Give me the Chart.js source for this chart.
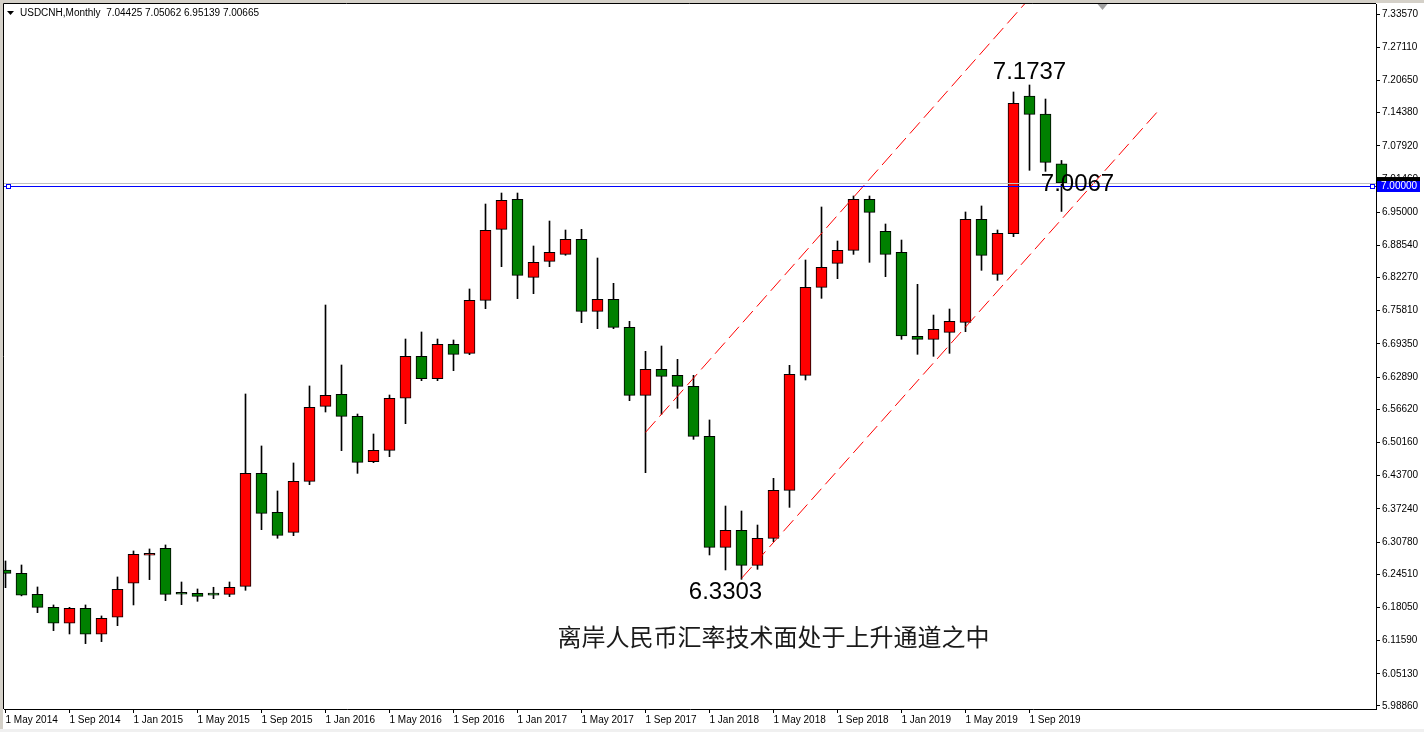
<!DOCTYPE html>
<html><head><meta charset="UTF-8">
<title>USDCNH,Monthly</title>
<style>
    body, html {
        margin: 0;
        padding: 0;
        background: #ffffff;
    }
    .wrap {
        position: relative;
        width: 1424px;
        height: 732px;
    }
</style>
<script src="https://cdn.jsdelivr.net/npm/chart.js"></script>
</head>
<body>
<div class="wrap"><canvas id="fxChart"></canvas></div>
<script>
// monthly candles, May 2014 .. Nov 2019
const months = [
    'May 2014','Jun 2014','Jul 2014','Aug 2014','Sep 2014','Oct 2014','Nov 2014','Dec 2014',
    'Jan 2015','Feb 2015','Mar 2015','Apr 2015','May 2015','Jun 2015','Jul 2015','Aug 2015','Sep 2015','Oct 2015','Nov 2015','Dec 2015',
    'Jan 2016','Feb 2016','Mar 2016','Apr 2016','May 2016','Jun 2016','Jul 2016','Aug 2016','Sep 2016','Oct 2016','Nov 2016','Dec 2016',
    'Jan 2017','Feb 2017','Mar 2017','Apr 2017','May 2017','Jun 2017','Jul 2017','Aug 2017','Sep 2017','Oct 2017','Nov 2017','Dec 2017',
    'Jan 2018','Feb 2018','Mar 2018','Apr 2018','May 2018','Jun 2018','Jul 2018','Aug 2018','Sep 2018','Oct 2018','Nov 2018','Dec 2018',
    'Jan 2019','Feb 2019','Mar 2019','Apr 2019','May 2019','Jun 2019','Jul 2019','Aug 2019','Sep 2019','Oct 2019','Nov 2019'
];
const opens = [
    6.2533, 6.2469, 6.2060, 6.1807, 6.1496, 6.1788, 6.1282, 6.1613,
    6.2275, 6.2820, 6.2956, 6.2080, 6.2080, 6.2060, 6.2060, 6.2216, 6.4416, 6.3657, 6.3267, 6.4260,
    6.5720, 6.5954, 6.5525, 6.4642, 6.4863, 6.5876, 6.6693, 6.6258, 6.6926, 6.6751, 6.7783, 6.9165,
    6.9749, 6.8231, 6.8542, 6.8678, 6.8970, 6.7569, 6.7802, 6.7257, 6.5934, 6.6440, 6.6323, 6.6109,
    6.5136, 6.2975, 6.3306, 6.2624, 6.3150, 6.4084, 6.6323, 6.8036, 6.8503, 6.8756, 6.9749, 6.9126,
    6.8717, 6.7082, 6.7024, 6.7160, 6.7355, 6.9360, 6.8289, 6.9081, 7.1761, 7.1410, 7.04425
];
const highs = [
    6.2709, 6.2631, 6.2203, 6.1853, 6.1807, 6.1853, 6.1639, 6.2398,
    6.2904, 6.2943, 6.3021, 6.2300, 6.2164, 6.2197, 6.2300, 6.5960, 6.4948, 6.4072, 6.4617, 6.6116,
    6.7692, 6.6524, 6.5570, 6.5181, 6.5940, 6.7030, 6.7167, 6.7030, 6.7011, 6.8004, 6.9658, 6.9872,
    6.9872, 6.8841, 6.9327, 6.9152, 6.9165, 6.8607, 6.8114, 6.7374, 6.6790, 6.6894, 6.6634, 6.6323,
    6.5454, 6.3779, 6.3682, 6.3409, 6.4318, 6.6518, 6.8568, 6.9600, 6.8938, 6.9814, 6.9814, 6.9269,
    6.8957, 6.8094, 6.7497, 6.7614, 6.9503, 6.9620, 6.9152, 7.1839, 7.1975, 7.1702, 7.05062
];
const lows = [
    6.2189, 6.2030, 6.1703, 6.1353, 6.1288, 6.1100, 6.1139, 6.1450,
    6.1853, 6.2346, 6.1937, 6.1859, 6.1924, 6.1976, 6.2015, 6.2138, 6.3319, 6.3151, 6.3202, 6.4195,
    6.5609, 6.4857, 6.4415, 6.4623, 6.4740, 6.5382, 6.6219, 6.6219, 6.6414, 6.6725, 6.7621, 6.8438,
    6.7816, 6.7913, 6.8438, 6.8660, 6.7348, 6.7231, 6.7231, 6.5830, 6.4428, 6.5564, 6.5681, 6.5077,
    6.2826, 6.2534, 6.2352, 6.2547, 6.3085, 6.3753, 6.6232, 6.7822, 6.8205, 6.8678, 6.8523, 6.8244,
    6.7024, 6.6732, 6.6693, 6.6751, 6.7173, 6.8367, 6.8172, 6.9023, 7.0314, 7.0294, 6.95139
];
const closes = [
    6.2468, 6.2041, 6.1807, 6.1496, 6.1788, 6.1282, 6.1593, 6.2158,
    6.2839, 6.2859, 6.2060, 6.2062, 6.2021, 6.2043, 6.2197, 6.4416, 6.3637, 6.3209, 6.4260, 6.5701,
    6.5934, 6.5525, 6.4630, 6.4863, 6.5876, 6.6693, 6.6258, 6.6926, 6.6732, 6.7783, 6.9146, 6.9730,
    6.8270, 6.8523, 6.8717, 6.8970, 6.7569, 6.7802, 6.7257, 6.5934, 6.6440, 6.6303, 6.6109, 6.5136,
    6.2975, 6.3306, 6.2624, 6.3150, 6.4084, 6.6342, 6.8036, 6.8425, 6.8756, 6.9749, 6.9496, 6.8678,
    6.7089, 6.7024, 6.7219, 6.7374, 6.9360, 6.8659, 6.9087, 7.1618, 7.1404, 7.0469, 7.00665
];

const xTickIdx = [0, 4, 8, 12, 16, 20, 24, 28, 32, 36, 40, 44, 48, 52, 56, 60, 64];
const xTickLabels = ['1 May 2014','1 Sep 2014','1 Jan 2015','1 May 2015','1 Sep 2015','1 Jan 2016',
    '1 May 2016','1 Sep 2016','1 Jan 2017','1 May 2017','1 Sep 2017','1 Jan 2018',
    '1 May 2018','1 Sep 2018','1 Jan 2019','1 May 2019','1 Sep 2019'];
const yTicks = [7.33570, 7.27110, 7.20650, 7.14380, 7.07920, 7.01460, 6.95000, 6.88540, 6.82270,
    6.75810, 6.69350, 6.62890, 6.56620, 6.50160, 6.43700, 6.37240, 6.30780, 6.24510, 6.18050,
    6.11590, 6.05130, 5.98860];

// drawn objects: horizontal line, channel rays, text labels
const levelLine = 7.0;
const upperChannel = [{x: 40, y: 6.5213}, {x: 64, y: 7.3661}];
const lowerChannel = [{x: 46, y: 6.2371}, {x: 72, y: 7.1456}];
const notes = [
    {text: '7.1737', x: 64, y: 7.2228},
    {text: '6.3303', x: 45, y: 6.2105},
    {text: '7.0067', x: 67, y: 7.0048},
    {text: '离岸人民币汇率技术面处于上升通道之中', x: 48, y: 6.1229, cjk: true}
];

const last = closes.length - 1;
const wickData = months.map((m, i) => ({x: i, y: [lows[i], highs[i]]}));
const bodyData = months.map((m, i) => ({x: i, y: [opens[i], closes[i]]}));
const bodyColors = months.map((m, i) => closes[i] >= opens[i] ? '#ff0000' : '#008000');

const mtPlugin = {
    id: 'mt4',
    beforeDraw(chart) {
        const ctx = chart.ctx;
        ctx.save();
        ctx.fillStyle = '#ffffff';
        ctx.fillRect(0, 0, chart.width, chart.height);
        ctx.fillStyle = '#d4d0c8';
        ctx.fillRect(0, 0, chart.width, 3);
        ctx.fillRect(0, 0, 3, chart.height);
        ctx.fillStyle = '#f0f0f0';
        ctx.fillRect(0, chart.height - 3, chart.width, 3);
        ctx.restore();
    },
    afterDraw(chart) {
        const ctx = chart.ctx;
        const a = chart.chartArea;
        const xs = chart.scales.x, ys = chart.scales.y;
        ctx.save();

        // frame left/top
        ctx.strokeStyle = '#000';
        ctx.lineWidth = 1;
        ctx.beginPath();
        ctx.moveTo(3.5, a.bottom);
        ctx.lineTo(3.5, 3.5);
        ctx.lineTo(a.right, 3.5);
        ctx.stroke();

        // bid line
        const yb = Math.round(ys.getPixelForValue(closes[last])) + 0.5;
        ctx.strokeStyle = '#c0c0c0';
        ctx.beginPath();
        ctx.moveTo(a.left, yb);
        ctx.lineTo(a.right, yb);
        ctx.stroke();

        // horizontal level line
        const yl = Math.round(ys.getPixelForValue(levelLine)) + 0.5;
        ctx.strokeStyle = '#0000ff';
        ctx.beginPath();
        ctx.moveTo(a.left, yl);
        ctx.lineTo(a.right, yl);
        ctx.stroke();
        ctx.fillStyle = '#ffffff';
        [a.left + 2, a.right - 6].forEach(px => {
            ctx.fillRect(px, yl - 2.5, 4, 4);
            ctx.strokeRect(px + 0.5, yl - 2, 4, 4);
        });

        // text objects
        ctx.fillStyle = '#000';
        ctx.textAlign = 'center';
        ctx.textBaseline = 'middle';
        notes.forEach(n => {
            ctx.font = n.cjk ? '24px "Noto Sans CJK SC"' : '24px "Liberation Sans", Arial';
            ctx.fillStyle = n.cjk ? '#1a1a1a' : '#000';
            ctx.fillText(n.text, xs.getPixelForValue(n.x), ys.getPixelForValue(n.y));
        });

        // price labels on the axis
        const lx = a.right + 1;
        ctx.fillStyle = '#000';
        ctx.fillRect(lx, ys.getPixelForValue(closes[last]) - 6, 43, 12);
        ctx.fillStyle = '#0000ff';
        ctx.fillRect(lx, yl - 5.5, 43, 11);
        ctx.fillStyle = '#ffffff';
        ctx.font = '10px "Liberation Sans", Arial';
        ctx.textAlign = 'left';
        ctx.fillText(levelLine.toFixed(5), a.right + 5, yl);

        // chart shift marker
        const sx = Math.round(xs.getPixelForValue(68.5)) + 0.5;
        ctx.fillStyle = '#a0a0a0';
        ctx.beginPath();
        ctx.moveTo(sx - 5, 4);
        ctx.lineTo(sx + 5, 4);
        ctx.lineTo(sx, 10);
        ctx.closePath();
        ctx.fill();

        // header
        ctx.fillStyle = '#000';
        ctx.beginPath();
        ctx.moveTo(7, 11);
        ctx.lineTo(14, 11);
        ctx.lineTo(10.5, 15);
        ctx.closePath();
        ctx.fill();
        ctx.font = '10px "Liberation Sans", Arial';
        ctx.textAlign = 'left';
        ctx.textBaseline = 'middle';
        const ohlc = [opens[last], highs[last], lows[last], closes[last]].map(v => v.toFixed(5)).join(' ');
        ctx.fillText('USDCNH,Monthly  ' + ohlc, 20, 13);
        ctx.restore();
    }
};

const ctx = document.getElementById('fxChart').getContext('2d');
new Chart(ctx, {
    type: 'bar',
    data: {
        datasets: [
            {
                type: 'line',
                data: upperChannel,
                borderColor: '#ff0000',
                borderWidth: 1,
                borderDash: [15, 6],
                pointRadius: 0,
                order: 0
            },
            {
                type: 'line',
                data: lowerChannel,
                borderColor: '#ff0000',
                borderWidth: 1,
                borderDash: [15, 6],
                pointRadius: 0,
                order: 0
            },
            {
                data: bodyData,
                backgroundColor: bodyColors,
                borderColor: '#000000',
                borderWidth: 1,
                borderSkipped: false,
                barThickness: 11,
                minBarLength: 2,
                grouped: false,
                order: 1
            },
            {
                data: wickData,
                backgroundColor: '#000000',
                borderWidth: 0,
                barThickness: 1,
                grouped: false,
                order: 2
            }
        ]
    },
    options: {
        responsive: true,
        maintainAspectRatio: false,
        animation: false,
        devicePixelRatio: 1,
        events: [],
        layout: { padding: { left: 4, top: 4, right: 0, bottom: 0 } },
        plugins: {
            legend: { display: false },
            tooltip: { enabled: false }
        },
        scales: {
            x: {
                type: 'linear',
                min: -0.09375,
                max: 85.65625,
                offset: false,
                grid: { drawOnChartArea: false, offset: false, tickLength: 4, color: '#000' },
                border: { color: '#000', width: 1 },
                afterBuildTicks: s => { s.ticks = xTickIdx.map(v => ({ value: v })); },
                afterFit: s => { s.height = 23; s.paddingLeft = 0; s.paddingRight = 0; },
                ticks: {
                    autoSkip: false,
                    maxRotation: 0,
                    minRotation: 0,
                    align: 'start',
                    padding: 1,
                    color: '#000',
                    font: { family: '"Liberation Sans", Arial', size: 10 },
                    callback: (v, i) => xTickLabels[i]
                }
            },
            y: {
                type: 'linear',
                position: 'right',
                min: 5.98275,
                max: 7.35517,
                grid: { drawOnChartArea: false, tickLength: 4, color: '#000' },
                border: { color: '#000', width: 1 },
                afterBuildTicks: s => { s.ticks = yTicks.map(v => ({ value: v })); },
                afterFit: s => { s.width = 48; s.paddingTop = 0; s.paddingBottom = 0; },
                ticks: {
                    padding: 2,
                    color: '#000',
                    font: { family: '"Liberation Sans", Arial', size: 10 },
                    callback: v => v.toFixed(5)
                }
            }
        }
    },
    plugins: [mtPlugin]
});
</script>
</body>
</html>
